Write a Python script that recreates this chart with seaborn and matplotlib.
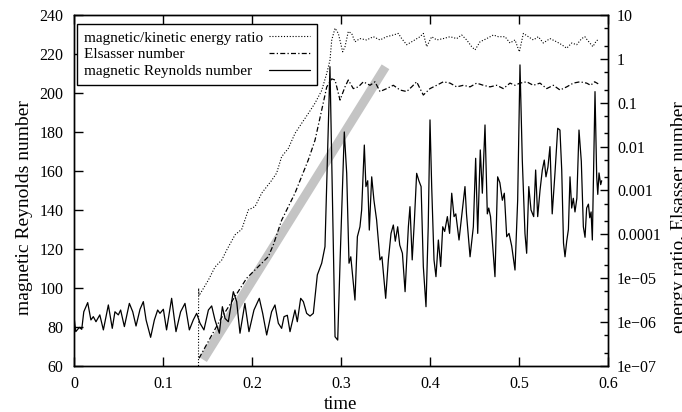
import numpy as np
import pandas as pd
import matplotlib
matplotlib.use("Agg")
import matplotlib.pyplot as plt
import seaborn as sns
from matplotlib.ticker import FixedLocator, FixedFormatter, NullFormatter

# ---------------- data ----------------
re_time = [0.000, 0.002, 0.006, 0.0087, 0.011, 0.0154, 0.019, 0.0217, 0.0247, 0.029,
           0.033, 0.0386, 0.043, 0.046, 0.0498, 0.0524, 0.0566, 0.0622, 0.066, 0.0697,
           0.0742, 0.0779, 0.081, 0.0861, 0.0903, 0.094, 0.0966, 0.1004, 0.104, 0.1097,
           0.1146, 0.1198, 0.1247, 0.1296, 0.134, 0.1378, 0.1416, 0.146, 0.151, 0.1547,
           0.1584, 0.1633, 0.1667, 0.1697, 0.1734, 0.179, 0.1828, 0.1865, 0.192, 0.1966,
           0.2022, 0.2082, 0.212, 0.2165, 0.222, 0.2258, 0.2296, 0.2333, 0.236, 0.2397,
           0.2427, 0.2483, 0.2509, 0.2547, 0.2577, 0.2614, 0.2652, 0.2689, 0.2734, 0.2783,
           0.282, 0.2876, 0.2933, 0.2963, 0.299, 0.3037, 0.3064, 0.309, 0.311, 0.3157,
           0.3184, 0.3213, 0.3232, 0.3262, 0.328, 0.330, 0.3318, 0.3345, 0.337, 0.340,
           0.3438, 0.346, 0.3502, 0.3532, 0.3562, 0.3588, 0.361, 0.3637, 0.366, 0.369,
           0.372, 0.3757, 0.3775, 0.380, 0.3825, 0.385, 0.3875, 0.390, 0.3925, 0.3955,
           0.398, 0.400, 0.4019, 0.4045, 0.4067, 0.4094, 0.412, 0.4143, 0.4165, 0.4195,
           0.422, 0.4244, 0.427, 0.429, 0.4326, 0.4363, 0.4393, 0.441, 0.445, 0.4487,
           0.4513, 0.4536, 0.4565, 0.4588, 0.4618, 0.4644, 0.466, 0.468, 0.473, 0.476,
           0.4785, 0.4813, 0.4835, 0.4862, 0.4888, 0.4918, 0.4955, 0.4985, 0.5011, 0.5037,
           0.5067, 0.5086, 0.511, 0.5135, 0.5165, 0.5187, 0.521, 0.5236, 0.5262, 0.5284,
           0.5303, 0.5325, 0.5348, 0.5373, 0.5404, 0.5435, 0.546, 0.548, 0.550, 0.5517,
           0.5536, 0.5555, 0.5573, 0.5592, 0.561, 0.5629, 0.565, 0.5674, 0.570, 0.5723,
           0.5742, 0.576, 0.578, 0.5795, 0.581, 0.5824, 0.5854, 0.5873, 0.5885, 0.5899,
           0.5918, 0.5929]
re_value = [85.3, 77.6, 79.8, 78.8, 87.8, 92.5, 83.6, 85.3, 82.7, 86.2,
            78.5, 91.3, 79.3, 87.8, 86.2, 88.7, 80.2, 92.1, 87.8, 80.5,
            89.1, 93.0, 83.6, 74.7, 83.6, 88.7, 87.0, 89.1, 78.5, 94.7,
            77.6, 87.8, 92.1, 78.5, 83.6, 87.0, 81.9, 78.5, 88.7, 90.8,
            83.6, 76.8, 90.4, 84.4, 82.7, 98.1, 93.0, 76.8, 92.1, 77.6,
            88.7, 94.7, 87.0, 75.9, 87.8, 91.3, 81.9, 79.3, 85.3, 86.0,
            77.6, 88.7, 82.7, 94.7, 93.0, 87.0, 85.6, 87.0, 106.7, 112.7,
            121.2, 213.5, 75.0, 73.3, 114.4, 180.0, 158.8, 112.7, 116.0, 93.8,
            126.3, 131.4, 140.0, 173.3, 152.0, 155.0, 129.7, 157.0, 145.0, 134.9,
            114.4, 116.0, 94.7, 114.4, 128.0, 132.3, 124.0, 131.4, 122.0, 117.8,
            98.1, 131.4, 141.7, 114.4, 135.0, 158.8, 155.0, 152.0, 111.0, 90.4,
            131.4, 186.2, 152.0, 114.4, 105.8, 124.6, 111.0, 131.4, 129.0, 136.6,
            128.0, 148.6, 136.6, 138.0, 124.6, 140.0, 152.0, 138.0, 116.0, 131.4,
            166.5, 128.0, 170.8, 148.6, 183.6, 138.0, 141.0, 136.6, 105.8, 157.0,
            154.0, 145.0, 148.6, 126.3, 128.0, 121.5, 109.2, 145.0, 214.4, 165.6,
            128.0, 117.8, 152.0, 140.0, 136.6, 160.5, 136.6, 150.0, 160.5, 165.6,
            157.0, 162.0, 172.5, 138.0, 158.8, 181.9, 181.0, 160.5, 123.0, 116.0,
            124.0, 130.0, 157.0, 141.0, 146.0, 139.0, 146.0, 181.0, 165.0, 131.4,
            126.0, 141.0, 143.0, 136.0, 139.0, 124.6, 200.7, 157.0, 148.0, 159.0,
            153.0, 155.0]

ratio_time = [0.1399, 0.1400, 0.1405, 0.151, 0.1584, 0.166, 0.1716, 0.181, 0.1884, 0.1959,
              0.2034, 0.2109, 0.2221, 0.2277, 0.2333, 0.2408, 0.2483, 0.2558, 0.2633, 0.2708,
              0.2783, 0.284, 0.2876, 0.2896, 0.2933, 0.297, 0.3019, 0.3045, 0.3082, 0.312,
              0.3157, 0.3213, 0.3288, 0.3363, 0.3438, 0.3513, 0.3588, 0.3644, 0.3682, 0.3738,
              0.3794, 0.3888, 0.3925, 0.3963, 0.4019, 0.4075, 0.415, 0.4225, 0.43, 0.4356,
              0.4412, 0.4468, 0.4506, 0.4562, 0.4637, 0.4712, 0.4768, 0.4843, 0.4899, 0.4955,
              0.5004, 0.5049, 0.5105, 0.5161, 0.5217, 0.5273, 0.5348, 0.5423, 0.548, 0.5536,
              0.5592, 0.5648, 0.5704, 0.574, 0.5761, 0.583, 0.587, 0.589]
ratio_value = [1e-7, 5.9e-6, 4.0e-6, 9.1e-6, 1.8e-5, 2.6e-5, 4.4e-5, 9.8e-5, 1.3e-4, 3.6e-4,
               4.3e-4, 8.7e-4, 1.7e-3, 2.5e-3, 5.9e-3, 9.1e-3, 0.020, 0.034, 0.057, 0.098,
               0.19, 0.47, 0.93, 2.7, 5.0, 3.8, 1.45, 1.9, 4.2, 3.8,
               2.45, 2.9, 2.7, 3.2, 2.7, 3.2, 3.5, 3.8, 2.9, 2.1,
               2.45, 3.2, 3.8, 1.9, 3.2, 2.7, 2.9, 3.2, 2.9, 3.5,
               2.7, 1.9, 1.6, 2.45, 2.9, 3.5, 3.2, 3.2, 2.3, 2.7,
               1.45, 3.8, 3.2, 2.7, 3.2, 2.3, 2.9, 2.45, 2.1, 1.75,
               2.3, 2.1, 2.9, 3.2, 2.8, 1.9, 2.6, 2.7]

els_time = [0.1405, 0.164, 0.194, 0.2183, 0.224, 0.2333, 0.2483, 0.2633, 0.2708, 0.2783,
            0.284, 0.2896, 0.2933, 0.2989, 0.3045, 0.3082, 0.3138, 0.3195, 0.3251, 0.3326,
            0.3382, 0.3438, 0.3513, 0.3588, 0.3663, 0.3738, 0.3794, 0.385, 0.3888, 0.3925,
            0.40, 0.4075, 0.415, 0.4225, 0.43, 0.4375, 0.445, 0.4524, 0.4599, 0.4674,
            0.4749, 0.4824, 0.4899, 0.4955, 0.5011, 0.5086, 0.5161, 0.5236, 0.5311, 0.5386,
            0.5461, 0.5536, 0.561, 0.5685, 0.576, 0.5805, 0.585, 0.589]
els_value = [1.5e-7, 1.1e-6, 1.0e-5, 3.1e-5, 5.8e-5, 2.1e-4, 8.7e-4, 5.0e-3, 0.014, 0.068,
             0.23, 0.35, 0.33, 0.115, 0.23, 0.33, 0.21, 0.23, 0.30, 0.25,
             0.30, 0.18, 0.21, 0.25, 0.195, 0.18, 0.23, 0.30, 0.21, 0.15,
             0.21, 0.25, 0.30, 0.28, 0.23, 0.25, 0.23, 0.28, 0.25, 0.23,
             0.25, 0.21, 0.28, 0.25, 0.28, 0.30, 0.25, 0.28, 0.21, 0.25,
             0.195, 0.23, 0.28, 0.30, 0.28, 0.25, 0.30, 0.27]

fit_time = [0.145, 0.350]
fit_value = [1.4e-7, 0.66]

legend_labels = ["magnetic/kinetic energy ratio", "Elsasser number", "magnetic Reynolds number"]
x_ticks = [0.0, 0.1, 0.2, 0.3, 0.4, 0.5, 0.6]
x_tick_labels = ["0", "0.1", "0.2", "0.3", "0.4", "0.5", "0.6"]
left_ticks = [60, 80, 100, 120, 140, 160, 180, 200, 220, 240]
left_tick_labels = ["60", "80", "100", "120", "140", "160", "180", "200", "220", "240"]
right_ticks = [1e-7, 1e-6, 1e-5, 1e-4, 1e-3, 1e-2, 1e-1, 1, 10]
right_tick_labels = ["1e\u221207", "1e\u221206", "1e\u221205", "0.0001", "0.001", "0.01", "0.1", "1", "10"]

# ---------------- style ----------------
sns.set_theme(style="white")
plt.rcParams.update({
    "font.family": ["Liberation Serif", "DejaVu Serif"],
    "axes.linewidth": 1.0,
    "axes.edgecolor": "black",
    "xtick.direction": "in",
    "ytick.direction": "in",
    "xtick.color": "black",
    "ytick.color": "black",
    "text.color": "black",
    "axes.labelcolor": "black",
})

fig = plt.figure(figsize=(6.82, 4.12), dpi=100)
ax = fig.add_axes([0.1085, 0.1117, 0.7830, 0.8519])
ax2 = ax.twinx()
ax.set_zorder(ax2.get_zorder() + 1)
ax.patch.set_visible(False)

ax2.set_yscale("log")
ax2.set_ylim(1e-7, 10)
ax.set_ylim(60, 240)
ax.set_xlim(0, 0.6)
ax2.set_xlim(0, 0.6)

# gray fit band
sns.lineplot(x=fit_time, y=fit_value, ax=ax2, color="#c4c4c4", linewidth=6.5,
             estimator=None, legend=False, solid_capstyle="butt")
# energy ratio (dotted)
sns.lineplot(x=ratio_time, y=ratio_value, ax=ax2, color="black", linewidth=0.8,
             estimator=None, legend=False)
ratio_line = ax2.get_lines()[-1]
ratio_line.set_dashes((1.0, 1.6))
# Elsasser number (dash-dot)
sns.lineplot(x=els_time, y=els_value, ax=ax2, color="black", linewidth=0.9,
             estimator=None, legend=False)
els_line = ax2.get_lines()[-1]
els_line.set_dashes((4.0, 1.8, 1.0, 1.8))
# magnetic Reynolds number (solid)
sns.lineplot(x=re_time, y=re_value, ax=ax, color="black", linewidth=0.9,
             estimator=None, legend=False)
re_line = ax.get_lines()[-1]

ax.set_xlim(0, 0.6)
ax.set_ylim(60, 240)
ax2.set_ylim(1e-7, 10)

# ticks
ax.xaxis.set_major_locator(FixedLocator(x_ticks))
ax.xaxis.set_major_formatter(FixedFormatter(x_tick_labels))
ax.yaxis.set_major_locator(FixedLocator(left_ticks))
ax.yaxis.set_major_formatter(FixedFormatter(left_tick_labels))
ax2.yaxis.set_major_locator(FixedLocator(right_ticks))
ax2.yaxis.set_major_formatter(FixedFormatter(right_tick_labels))
minor_pos = [m * 10.0 ** e for e in range(-7, 1) for m in (2, 5)]
ax2.yaxis.set_minor_locator(FixedLocator(minor_pos))
ax2.yaxis.set_minor_formatter(NullFormatter())

ax.tick_params(axis="x", which="major", direction="in", length=6.5, width=1.0,
               top=True, bottom=True, labelsize=11.5, pad=7.5)
ax.tick_params(axis="y", which="major", direction="in", length=6.5, width=1.0,
               left=True, right=False, labelsize=11.5, pad=7.5)
ax2.tick_params(axis="y", which="major", direction="in", length=6.0, width=1.0,
                labelsize=11.5, pad=6.5)
ax2.tick_params(axis="y", which="minor", direction="in", length=3.0, width=1.0)
for a in (ax, ax2):
    for s in a.spines.values():
        s.set_color("black")
        s.set_linewidth(1.0)
ax.grid(False)
ax2.grid(False)

ax.set_xlabel("time", fontsize=13.5)
ax.xaxis.set_label_coords(0.5, -0.085)
ax.set_ylabel("magnetic Reynolds number", fontsize=14)
ax.yaxis.set_label_coords(-0.077, 0.45)
ax2.set_ylabel("energy ratio, Elsasser number", fontsize=14)
ax2.yaxis.set_label_coords(1.118, 0.425)

# legend: text left, samples right
leg = ax.legend([ratio_line, els_line, re_line], legend_labels,
                loc="upper left", bbox_to_anchor=(0.0056, 0.974), borderaxespad=0.0,
                markerfirst=False, fancybox=False, framealpha=1.0, edgecolor="black",
                fontsize=11, handlelength=2.7, handletextpad=0.4,
                labelspacing=0.2, borderpad=0.45)
leg.get_frame().set_linewidth(1.0)
fig.canvas.draw()
renderer = fig.canvas.get_renderer()
column = leg._legend_handle_box.get_children()[0]
rows = column.get_children()
wmax = max(r.get_bbox(renderer).width for r in rows)
for r in rows:
    r.mode = "expand"
    r.width = wmax

fig.savefig("out.png", dpi=100)
